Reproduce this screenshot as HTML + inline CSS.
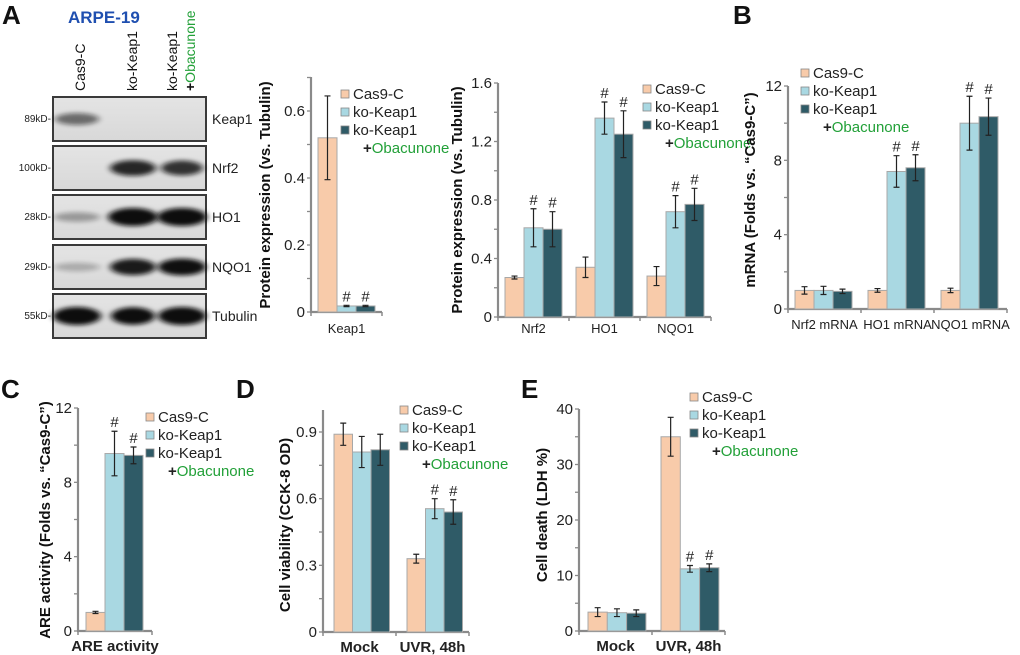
<!DOCTYPE html>
<html><head><meta charset="utf-8"><style>
html,body{margin:0;padding:0;background:#fff;}
svg{display:block;font-family:"Liberation Sans",Arial,sans-serif;}
</style></head><body>
<svg id="fig" width="1020" height="655" viewBox="0 0 1020 655" xmlns="http://www.w3.org/2000/svg">
<defs>
<filter id="blur" x="-30%" y="-80%" width="160%" height="260%"><feGaussianBlur stdDeviation="3.5 2"/></filter>
<linearGradient id="bg" x1="0" y1="0" x2="0" y2="1"><stop offset="0" stop-color="#e4e4e4"/><stop offset="1" stop-color="#d8d8d8"/></linearGradient>
</defs>
<g font-weight="bold" font-size="26" fill="#111">
<text x="2" y="24">A</text>
<text x="733" y="24">B</text>
<text x="1" y="398">C</text>
<text x="236" y="398">D</text>
<text x="521" y="398">E</text>
</g>
<text x="68" y="23" font-size="17" font-weight="bold" fill="#1f4fb0">ARPE-19</text>
<g id="blot"></g>
<g id="charts"></g>
</svg>
<script>
// ---------- data ----------
const groups = ["Cas9-C", "ko-Keap1", "ko-Keap1 +Obacunone"];
// Panel A (Keap1)
const aKeapCats = ["Keap1"];
const aKeapVals = [[0.52], [0.018], [0.018]];
const aKeapErrs = [[0.125], [0.002], [0.002]];
const aKeapSig  = [[0], [1], [1]];
const aKeapTicks = ["0", "0.2", "0.4", "0.6"];
// Panel A (Nrf2/HO1/NQO1)
const aProtCats = ["Nrf2", "HO1", "NQO1"];
const aProtVals = [[0.27, 0.34, 0.28], [0.61, 1.36, 0.72], [0.60, 1.25, 0.77]];
const aProtErrs = [[0.01, 0.07, 0.065], [0.13, 0.11, 0.11], [0.12, 0.16, 0.11]];
const aProtSig  = [[0, 0, 0], [1, 1, 1], [1, 1, 1]];
const aProtTicks = ["0", "0.4", "0.8", "1.2", "1.6"];
// Panel B
const bCats = ["Nrf2 mRNA", "HO1 mRNA", "NQO1 mRNA"];
const bVals = [[1.0, 1.0, 1.0], [1.0, 7.4, 10.0], [0.95, 7.6, 10.35]];
const bErrs = [[0.2, 0.1, 0.12], [0.22, 0.85, 1.45], [0.12, 0.7, 1.0]];
const bSig  = [[0, 0, 0], [0, 1, 1], [0, 1, 1]];
const bTicks = ["0", "4", "8", "12"];
// Panel C
const cCats = ["ARE activity"];
const cVals = [[1.0], [9.55], [9.45]];
const cErrs = [[0.06], [1.2], [0.45]];
const cSig  = [[0], [1], [1]];
const cTicks = ["0", "4", "8", "12"];
// Panel D
const dCats = ["Mock", "UVR, 48h"];
const dVals = [[0.89, 0.33], [0.81, 0.555], [0.82, 0.54]];
const dErrs = [[0.05, 0.02], [0.07, 0.045], [0.07, 0.055]];
const dSig  = [[0, 0], [0, 1], [0, 1]];
const dTicks = ["0", "0.3", "0.6", "0.9"];
// Panel E
const eCats = ["Mock", "UVR, 48h"];
const eVals = [[3.4, 35.0], [3.3, 11.2], [3.2, 11.4]];
const eErrs = [[0.8, 3.5], [0.7, 0.6], [0.6, 0.7]];
const eSig  = [[0, 0], [0, 1], [0, 1]];
const eTicks = ["0", "10", "20", "30", "40"];

const NS = "http://www.w3.org/2000/svg";
const COLORS = ["#f8cbaa", "#a9d8e2", "#2f5b67"];
function mk(parent, tag, attrs, text) {
  const el = document.createElementNS(NS, tag);
  for (const k in attrs) el.setAttribute(k, attrs[k]);
  if (text !== undefined) el.textContent = text;
  parent.appendChild(el);
  return el;
}

function chart(cfg, cats, vals, errs, sig, ticks) {
  const g = mk(document.getElementById("charts"), "g", {});
  
  
  const maxV = parseFloat(ticks[ticks.length - 1]);
  const y = v => cfg.y0 - (v / maxV) * (cfg.y0 - cfg.yTop);
  const ax = "#8a8a8a";
  const yAxis = mk(g, "line", {x1: cfg.x0, y1: cfg.y0, x2: cfg.x0, y2: cfg.yAxisTop, stroke: ax, "stroke-width": 2.2});
  
  
  const step = maxV / (ticks.length - 1);
  const nMinor = Math.round((cfg.y0 - cfg.yAxisTop) / ((cfg.y0 - cfg.yTop) / (ticks.length - 1)) * 2);
  for (let i = 0; i <= nMinor; i++) {
    const yy = cfg.y0 - i * (cfg.y0 - cfg.yTop) / ((ticks.length - 1) * 2);
    if (yy < cfg.yAxisTop - 1) break;
    mk(g, "line", {x1: cfg.x0 - 4, y1: yy, x2: cfg.x0, y2: yy, stroke: ax, "stroke-width": 1.3});
  }
  ticks.forEach((t, i) => {
    const yy = y(i * step);
    const tl = mk(g, "text", {x: cfg.x0 - 6, y: yy + 5, "text-anchor": "end", "font-size": 15, fill: "#222"}, t);
    
    
  });
  const yt = mk(g, "text", {x: 0, y: 0, "text-anchor": "middle", "font-size": 15, "font-weight": "bold", fill: "#111",
    transform: `translate(${cfg.titleX},${cfg.titleY}) rotate(-90)`}, cfg.yTitle);
  
  
  const xEnd = cfg.x0 + cfg.gw * cats.length;
  const xAxis = mk(g, "line", {x1: cfg.x0 - 1, y1: cfg.y0, x2: xEnd, y2: cfg.y0, stroke: ax, "stroke-width": 2.2});
  
  
  for (let c = 0; c <= cats.length; c++) {
    const xx = cfg.x0 + c * cfg.gw;
    mk(g, "line", {x1: xx, y1: cfg.y0, x2: xx, y2: cfg.y0 + 4, stroke: ax, "stroke-width": 1.5});
  }
  cats.forEach((cat, c) => {
    const cx = cfg.x0 + c * cfg.gw + cfg.gw / 2;
    const xl = mk(g, "text", {x: cx, y: cfg.y0 + cfg.catDy, "text-anchor": "middle", "font-size": cfg.catSize,
      "font-weight": cfg.catBold ? "bold" : "normal", fill: "#222"}, cat);
    
    
    for (let s = 0; s < 3; s++) {
      const v = vals[s][c], e = errs[s][c];
      const bx = cfg.x0 + c * cfg.gw + cfg.off + s * cfg.bw;
      const bar = mk(g, "rect", {x: bx, y: y(v), width: cfg.bw, height: cfg.y0 - y(v), fill: COLORS[s], stroke: "#a8a8a8", "stroke-width": 1});
      
      
      const mx = bx + cfg.bw / 2;
      const eb = mk(g, "path", {d: `M${mx},${y(v + e)}V${y(v - e)}M${mx - 3},${y(v + e)}H${mx + 3}M${mx - 3},${y(v - e)}H${mx + 3}`,
        stroke: "#222", "stroke-width": 1.2, fill: "none"});
      
      
      if (sig[s][c]) {
        const h = mk(g, "text", {x: mx, y: y(v + e) - 4, "text-anchor": "middle", "font-size": 15, fill: "#222"}, "#");
        
        
      }
    }
  });
  const lg = mk(g, "g", {});
  
  
  const labels = ["Cas9-C", "ko-Keap1", "ko-Keap1"];
  labels.forEach((l, i) => {
    const yy = cfg.ly + i * cfg.lstep;
    const sw = mk(lg, "rect", {x: cfg.lx, y: yy - 9, width: 8, height: 8, fill: COLORS[i], stroke: "#888", "stroke-width": 0.8});
    
    
    const t = mk(lg, "text", {x: cfg.lx + 12, y: yy, "font-size": 15, fill: "#222"}, l);
    
    
  });
  const ob = mk(lg, "text", {x: cfg.lx + 22, y: cfg.ly + 3 * cfg.lstep, "font-size": 15, fill: "#222"});
  
  
  mk(ob, "tspan", {"font-weight": "bold"}, "+");
  mk(ob, "tspan", {fill: "#22a038"}, "Obacunone");
}

chart({name: "chart-keap1-protein", x0: 311, y0: 312, yTop: 111, yAxisTop: 77, gw: 71, off: 7, bw: 19,
  titleX: 270, titleY: 195, yTitle: "Protein expression (vs. Tubulin)", catDy: 21, catSize: 13, catBold: false,
  lx: 341, ly: 99, lstep: 18}, aKeapCats, aKeapVals, aKeapErrs, aKeapSig, aKeapTicks);
chart({name: "chart-protein-expression", x0: 498, y0: 317, yTop: 83, yAxisTop: 83, gw: 71, off: 7, bw: 19,
  titleX: 462, titleY: 200, yTitle: "Protein expression (vs. Tubulin)", catDy: 16, catSize: 13, catBold: false,
  lx: 643, ly: 94, lstep: 18}, aProtCats, aProtVals, aProtErrs, aProtSig, aProtTicks);
chart({name: "chart-mrna", x0: 788, y0: 309, yTop: 86, yAxisTop: 86, gw: 73, off: 7, bw: 19,
  titleX: 755, titleY: 190, yTitle: "mRNA (Folds vs. \u201cCas9-C\u201d)", catDy: 20, catSize: 13, catBold: false,
  lx: 801, ly: 78, lstep: 18}, bCats, bVals, bErrs, bSig, bTicks);
chart({name: "chart-are-activity", x0: 78, y0: 631, yTop: 408, yAxisTop: 408, gw: 74, off: 8, bw: 19,
  titleX: 50, titleY: 520, yTitle: "ARE activity (Folds vs. \u201cCas9-C\u201d)", catDy: 20, catSize: 15, catBold: true,
  lx: 146, ly: 422, lstep: 18}, cCats, cVals, cErrs, cSig, cTicks);
chart({name: "chart-cell-viability", x0: 323, y0: 632, yTop: 432, yAxisTop: 410, gw: 73, off: 11, bw: 18.5,
  titleX: 290, titleY: 525, yTitle: "Cell viability (CCK-8 OD)", catDy: 20, catSize: 15, catBold: true,
  lx: 400, ly: 415, lstep: 18}, dCats, dVals, dErrs, dSig, dTicks);
chart({name: "chart-cell-death", x0: 579, y0: 631, yTop: 409, yAxisTop: 409, gw: 73, off: 9, bw: 19.3,
  titleX: 547, titleY: 515, yTitle: "Cell death (LDH %)", catDy: 20, catSize: 15, catBold: true,
  lx: 690, ly: 402, lstep: 18}, eCats, eVals, eErrs, eSig, eTicks);

// ---------- western blot ----------
const blot = document.getElementById("blot");
const laneX = [77, 133, 182];
const rows = [
  {name: "Keap1", kd: "89kD-", y: 97, h: 44, bands: [[0.5, 44], [0, 0], [0, 0]]},
  {name: "Nrf2", kd: "100kD-", y: 146, h: 44, bands: [[0.8, 44], [0.75, 40]].length ? [[0, 0], [0.8, 46], [0.75, 42]] : []},
  {name: "HO1", kd: "28kD-", y: 195, h: 44, bands: [[0.3, 46], [1, 50], [1, 50]]},
  {name: "NQO1", kd: "29kD-", y: 245, h: 44, bands: [[0.22, 46], [0.85, 46], [0.9, 48]]},
  {name: "Tubulin", kd: "55kD-", y: 294, h: 44, bands: [[1, 48], [0.95, 44], [1, 48]]}
];
rows.forEach(r => {
  const g = mk(blot, "g", {});
  
  
  mk(g, "rect", {x: 53, y: r.y, width: 153, height: r.h, fill: "url(#bg)", stroke: "#3a3a3a", "stroke-width": 2});
  const cy = r.y + r.h / 2;
  r.bands.forEach((b, i) => {
    if (b[0] > 0) mk(g, "ellipse", {cx: laneX[i], cy: cy, rx: b[1] / 2, ry: 3 + 6 * b[0], fill: "#111", opacity: Math.min(1, b[0] * 1.1), filter: "url(#blur)"});
  });
  mk(g, "text", {x: 51, y: cy + 3, "text-anchor": "end", "font-size": 10, fill: "#222"}, r.kd);
  mk(g, "text", {x: 212, y: cy + 5, "font-size": 14, fill: "#222"}, r.name);
});
const lanes = [["Cas9-C", 85], ["ko-Keap1", 137], ["ko-Keap1", 177]];
lanes.forEach(l => {
  const t = mk(blot, "text", {x: 0, y: 0, "font-size": 14, fill: "#111", transform: `translate(${l[1]},91) rotate(-90)`}, l[0]);
  
  
});
const ob = mk(blot, "text", {x: 0, y: 0, "font-size": 14, fill: "#111", transform: `translate(195,91) rotate(-90)`});


mk(ob, "tspan", {"font-weight": "bold"}, "+");
mk(ob, "tspan", {fill: "#22a038"}, "Obacunone");
</script>
</body></html>
